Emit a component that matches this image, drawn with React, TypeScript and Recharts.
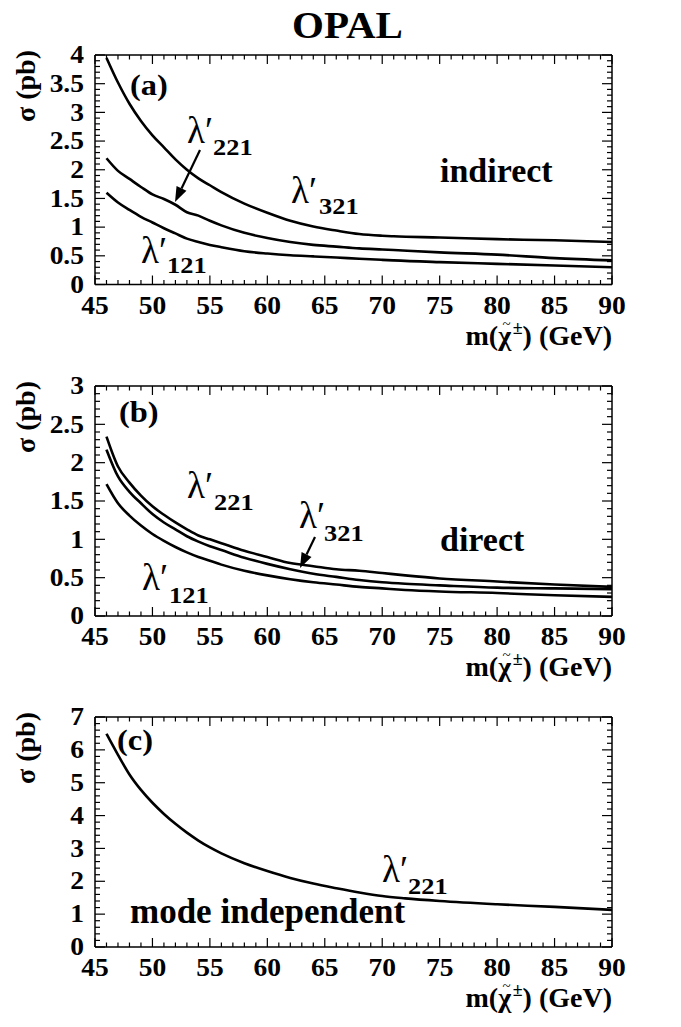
import React from 'react';
import { LineChart, Line, XAxis, YAxis } from 'recharts';

const FONT = "'Liberation Serif', 'Times New Roman', Times, serif";

// ---------- data ----------
// Panel (a): indirect
const massA = [46, 47, 48, 49, 50, 51, 52, 53, 54, 55, 56, 58, 60, 62, 64, 66, 68, 70, 71, 75, 80, 85, 90];
const a321 = [3.95, 3.52, 3.15, 2.85, 2.6, 2.39, 2.18, 2.0, 1.85, 1.73, 1.61, 1.41, 1.25, 1.11, 1.01, 0.94, 0.88, 0.85, 0.84, 0.82, 0.79, 0.77, 0.74];
const a221 = [2.2, 1.98, 1.84, 1.7, 1.57, 1.49, 1.39, 1.26, 1.2, 1.11, 1.03, 0.9, 0.81, 0.74, 0.69, 0.66, 0.63, 0.61, 0.6, 0.56, 0.52, 0.46, 0.42];
const a121 = [1.6, 1.43, 1.3, 1.18, 1.08, 0.98, 0.89, 0.8, 0.74, 0.69, 0.65, 0.58, 0.54, 0.51, 0.49, 0.47, 0.45, 0.43, 0.42, 0.39, 0.36, 0.33, 0.3];

// Panel (b): direct
const massB = [46, 47, 48, 49, 50, 51, 52, 53, 54, 55, 56, 58, 60, 62, 64, 66, 68, 70, 72, 75, 80, 85, 90];
const b221 = [2.34, 1.95, 1.74, 1.57, 1.43, 1.32, 1.22, 1.13, 1.05, 1.0, 0.95, 0.85, 0.77, 0.69, 0.65, 0.61, 0.59, 0.56, 0.53, 0.49, 0.45, 0.41, 0.38];
const b321 = [2.17, 1.82, 1.62, 1.47, 1.33, 1.22, 1.13, 1.04, 0.97, 0.91, 0.86, 0.76, 0.68, 0.61, 0.55, 0.51, 0.47, 0.44, 0.42, 0.4, 0.37, 0.36, 0.35];
const b121 = [1.72, 1.47, 1.31, 1.18, 1.07, 0.98, 0.9, 0.83, 0.77, 0.72, 0.67, 0.59, 0.53, 0.48, 0.44, 0.41, 0.38, 0.36, 0.34, 0.32, 0.3, 0.27, 0.25];

// Panel (c): mode independent
const massC = [46, 47, 48, 49, 50, 51, 52, 53, 54, 55, 56, 58, 60, 62, 64, 66, 68, 70, 72, 75, 80, 85, 90];
const c221 = [6.49, 5.85, 5.25, 4.78, 4.39, 4.05, 3.75, 3.48, 3.24, 3.03, 2.85, 2.55, 2.31, 2.1, 1.93, 1.79, 1.66, 1.55, 1.48, 1.4, 1.3, 1.22, 1.13];

// ticks
const xMajorTicks = [45, 50, 55, 60, 65, 70, 75, 80, 85, 90];
const xTicks = Array.from({ length: 46 }, (_, i) => 45 + i);
const yTicksA = Array.from({ length: 41 }, (_, i) => i / 10);
const yTicksB = Array.from({ length: 31 }, (_, i) => i / 10);
const yTicksC = Array.from({ length: 36 }, (_, i) => (i * 2) / 10);

const dataA = massA.map((m, i) => ({ m, s321: a321[i], s221: a221[i], s121: a121[i] }));
const dataB = massB.map((m, i) => ({ m, s221: b221[i], s321: b321[i], s121: b121[i] }));
const dataC = massC.map((m, i) => ({ m, s221: c221[i] }));

// ---------- tick renderers ----------
const TICK_STROKE = 1.2;
const TICK_FONT = 25;

const makeXTick = (side: 'bottom' | 'top') => (props: any) => {
  const { x, y, payload } = props;
  const v = payload.value as number;
  const major = xMajorTicks.includes(v);
  const len = major ? 9 : 4.5;
  const dir = side === 'bottom' ? -1 : 1;
  return (
    <g>
      <line x1={x} y1={y} x2={x} y2={y + dir * len} stroke="#000" strokeWidth={TICK_STROKE} />
      {side === 'bottom' && major ? (
        <text
          transform={`translate(${x},${y + 29}) scale(1.1,1)`}
          textAnchor="middle"
          fontFamily={FONT}
          fontWeight="bold"
          fontSize={TICK_FONT}
          fill="#000"
        >
          {v}
        </text>
      ) : null}
    </g>
  );
};

const makeYTick = (side: 'left' | 'right', perUnit: number, majorEvery: number) => (props: any) => {
  const { x, y, payload } = props;
  const v = payload.value as number;
  const k = Math.round(v * perUnit);
  const major = k % majorEvery === 0;
  const len = major ? 10 : 5;
  const dir = side === 'left' ? 1 : -1;
  return (
    <g>
      <line x1={x} y1={y} x2={x + dir * len} y2={y} stroke="#000" strokeWidth={TICK_STROKE} />
      {side === 'left' && major ? (
        <text
          transform={`translate(${x - 11},${y + 8.2}) scale(1.1,1)`}
          textAnchor="end"
          fontFamily={FONT}
          fontWeight="bold"
          fontSize={TICK_FONT}
          fill="#000"
        >
          {String(Math.round(v * 10) / 10)}
        </text>
      ) : null}
    </g>
  );
};

const axisLine = { stroke: '#000', strokeWidth: 1.5 };

type PanelProps = {
  data: any[];
  keys: string[];
  yMax: number;
  yTicks: number[];
  perUnit: number;
  majorEvery: number;
  marginTop: number;
  marginBottom: number;
};

const Panel = ({ data, keys, yMax, yTicks, perUnit, majorEvery, marginTop, marginBottom }: PanelProps) => (
  <LineChart
    width={681}
    height={340}
    data={data}
    margin={{ top: marginTop, right: 59, bottom: marginBottom, left: 55 }}
  >
    <XAxis
      xAxisId="b"
      dataKey="m"
      type="number"
      domain={[45, 90]}
      ticks={xTicks}
      interval={0}
      orientation="bottom"
      height={30}
      tickSize={0}
      tickMargin={0}
      tickLine={false}
      axisLine={axisLine}
      tick={makeXTick('bottom')}
      allowDataOverflow
    />
    <XAxis
      xAxisId="t"
      dataKey="m"
      type="number"
      domain={[45, 90]}
      ticks={xTicks}
      interval={0}
      orientation="top"
      height={10}
      tickSize={0}
      tickMargin={0}
      tickLine={false}
      axisLine={axisLine}
      tick={makeXTick('top')}
      allowDataOverflow
    />
    <YAxis
      yAxisId="l"
      type="number"
      domain={[0, yMax]}
      ticks={yTicks}
      interval={0}
      orientation="left"
      width={40}
      tickSize={0}
      tickMargin={0}
      tickLine={false}
      axisLine={axisLine}
      tick={makeYTick('left', perUnit, majorEvery)}
      allowDataOverflow
    />
    <YAxis
      yAxisId="r"
      type="number"
      domain={[0, yMax]}
      ticks={yTicks}
      interval={0}
      orientation="right"
      width={10}
      tickSize={0}
      tickMargin={0}
      tickLine={false}
      axisLine={axisLine}
      tick={makeYTick('right', perUnit, majorEvery)}
      allowDataOverflow
    />
    {keys.map((k) => (
      <Line
        key={k}
        xAxisId="b"
        yAxisId="l"
        dataKey={k}
        type="monotone"
        stroke="#000"
        strokeWidth={2.6}
        dot={false}
        activeDot={false}
        isAnimationActive={false}
      />
    ))}
  </LineChart>
);

// ---------- annotations ----------
const Lam = ({ x, y, sx, sy, sub }: { x: number; y: number; sx: number; sy: number; sub: string }) => (
  <g>
    <text x={x} y={y} fontFamily={FONT} fontSize={37} fill="#000">
      λ′
    </text>
    <text
      transform={`translate(${sx},${sy}) scale(1.1,1)`}
      fontFamily={FONT}
      fontWeight="bold"
      fontSize={24}
      fill="#000"
    >
      {sub}
    </text>
  </g>
);

const Arrow = ({ x1, y1, x2, y2 }: { x1: number; y1: number; x2: number; y2: number }) => {
  const ang = Math.atan2(y2 - y1, x2 - x1);
  const L = 15;
  const W = 5.5;
  const bx = x2 - L * Math.cos(ang);
  const by = y2 - L * Math.sin(ang);
  const px = -Math.sin(ang) * W;
  const py = Math.cos(ang) * W;
  return (
    <g>
      <line x1={x1} y1={y1} x2={bx} y2={by} stroke="#000" strokeWidth={2.2} />
      <polygon points={`${x2},${y2} ${bx + px},${by + py} ${bx - px},${by - py}`} fill="#000" />
    </g>
  );
};

const Bold = ({ x, y, size, children, anchor = 'start', sx = 1 }: any) => (
  <text
    transform={`translate(${x},${y}) scale(${sx},1)`}
    textAnchor={anchor}
    fontFamily={FONT}
    fontWeight="bold"
    fontSize={size}
    fill="#000"
  >
    {children}
  </text>
);

const YTitle = ({ x, y }: { x: number; y: number }) => (
  <text
    transform={`translate(${x},${y}) rotate(-90)`}
    textAnchor="end"
    fontFamily={FONT}
    fontWeight="bold"
    fontSize={28}
    fill="#000"
  >
    σ (pb)
  </text>
);

const XTitle = ({ y }: { y: number }) => (
  <text x={612} y={y} textAnchor="end" fontFamily={FONT} fontWeight="bold" fontSize={28} fill="#000">
    m(χ
    <tspan dx={-8.5} dy={-16} fontSize={15} fontWeight="normal">
      ~
    </tspan>
    <tspan dx={2} dy={5} fontSize={18}>
      ±
    </tspan>
    <tspan dy={11}>) (GeV)</tspan>
  </text>
);

export default function App() {
  return (
    <div style={{ position: 'absolute', left: 0, top: 0, width: 681, height: 1027, background: '#fff' }}>
      <div style={{ position: 'absolute', left: 0, top: 0 }}>
        <Panel
          data={dataA}
          keys={['s321', 's221', 's121']}
          yMax={4}
          yTicks={yTicksA}
          perUnit={10}
          majorEvery={5}
          marginTop={45}
          marginBottom={25.5}
        />
      </div>
      <div style={{ position: 'absolute', left: 0, top: 330 }}>
        <Panel
          data={dataB}
          keys={['s221', 's321', 's121']}
          yMax={3}
          yTicks={yTicksB}
          perUnit={10}
          majorEvery={5}
          marginTop={46}
          marginBottom={24}
        />
      </div>
      <div style={{ position: 'absolute', left: 0, top: 660 }}>
        <Panel
          data={dataC}
          keys={['s221']}
          yMax={7}
          yTicks={yTicksC}
          perUnit={5}
          majorEvery={5}
          marginTop={47}
          marginBottom={23}
        />
      </div>
      <svg
        width={681}
        height={1027}
        style={{ position: 'absolute', left: 0, top: 0, pointerEvents: 'none' }}
      >
        <Bold x={347.5} y={38} size={38} anchor="middle" sx={1.08}>
          OPAL
        </Bold>

        {/* panel a */}
        <YTitle x={35} y={50} />
        <XTitle y={345} />
        <Bold x={130} y={95} size={29} sx={1.12}>
          (a)
        </Bold>
        <Lam x={187} y={143} sx={213} sy={155} sub="221" />
        <Lam x={291} y={203} sx={319} sy={214} sub="321" />
        <Lam x={141} y={263} sx={167} sy={273} sub="121" />
        <Arrow x1={200} y1={150} x2={175} y2={202} />
        <Bold x={440} y={182} size={34}>
          indirect
        </Bold>

        {/* panel b */}
        <YTitle x={35} y={381} />
        <XTitle y={676} />
        <Bold x={119} y={422} size={29} sx={1.12}>
          (b)
        </Bold>
        <Lam x={187} y={498} sx={214} sy={510} sub="221" />
        <Lam x={299} y={528} sx={324} sy={541} sub="321" />
        <Lam x={142} y={590} sx={169} sy={603} sub="121" />
        <Arrow x1={315} y1={537} x2={300} y2={568} />
        <Bold x={440} y={551} size={34}>
          direct
        </Bold>

        {/* panel c */}
        <YTitle x={35} y={712} />
        <XTitle y={1007} />
        <Bold x={117} y={750} size={29} sx={1.12}>
          (c)
        </Bold>
        <Lam x={382} y={882} sx={408} sy={894} sub="221" />
        <Bold x={130} y={923} size={35}>
          mode independent
        </Bold>
      </svg>
    </div>
  );
}
